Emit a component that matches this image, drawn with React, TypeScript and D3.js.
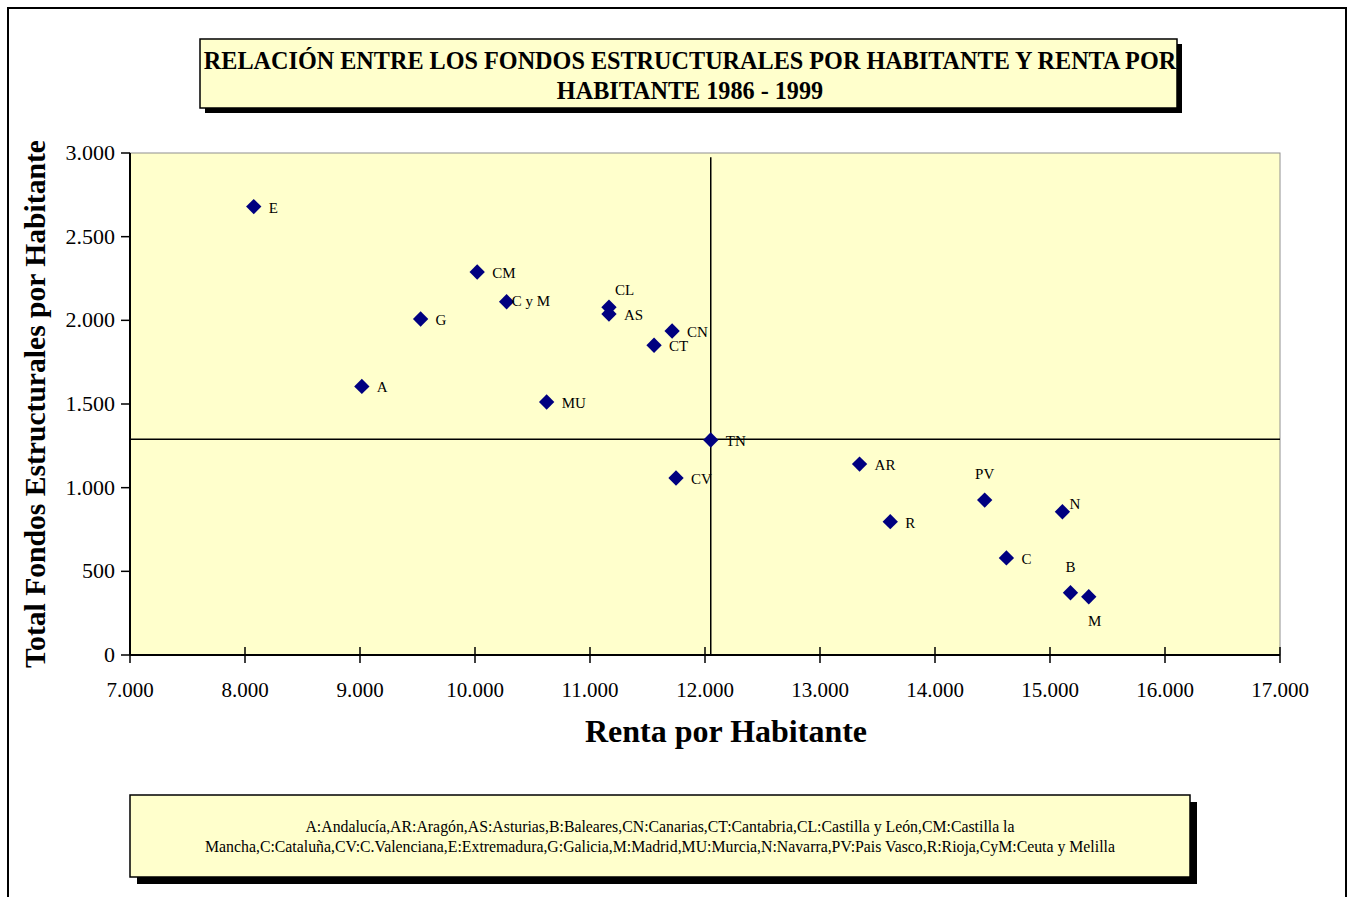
import React from "react";
import * as d3 from "d3";

const regions = ["E", "CM", "C y M", "G", "A", "MU", "CL", "AS", "CN", "CT", "TN", "CV", "AR", "R", "PV", "N", "C", "B", "M"];
const renta = [8076, 10019, 10275, 9527, 9016, 10623, 11165, 11165, 11714, 11557, 12050, 11748, 13344, 13611, 14432, 15108, 14621, 15178, 15337];
const fondos = [2680, 2289, 2111, 2008, 1605, 1512, 2078, 2038, 1936, 1851, 1285, 1058, 1141, 797, 926, 856, 580, 372, 348];
const labelSide = ["r", "r", "rc", "r", "r", "r", "tr", "r", "r", "r", "r", "r", "r", "r", "t", "tr2", "r", "t", "b"];

const xTicks = [7000, 8000, 9000, 10000, 11000, 12000, 13000, 14000, 15000, 16000, 17000];
const yTicks = [0, 500, 1000, 1500, 2000, 2500, 3000];
const meanRenta = 12050;
const meanFondos = 1290;
const crossTop = 2975;

const titleLines = ["RELACIÓN ENTRE LOS FONDOS ESTRUCTURALES POR HABITANTE Y RENTA POR", "HABITANTE 1986 - 1999"];
const legendLines = [
  "A:Andalucía,AR:Aragón,AS:Asturias,B:Baleares,CN:Canarias,CT:Cantabria,CL:Castilla y León,CM:Castilla la",
  "Mancha,C:Cataluña,CV:C.Valenciana,E:Extremadura,G:Galicia,M:Madrid,MU:Murcia,N:Navarra,PV:Pais Vasco,R:Rioja,CyM:Ceuta y Melilla",
];

const fmt = (v: number) => d3.format(",")(v).replace(/,/g, ".");

export default function App() {
  const L = 130, R = 1280, T = 153, B = 655;
  const x = d3.scaleLinear().domain([7000, 17000]).range([L, R]);
  const y = d3.scaleLinear().domain([0, 3000]).range([B, T]);
  const serif = "'Liberation Serif', 'Times New Roman', serif";
  const fill = "#FFFFCC";
  const diamond = d3.symbol().type(d3.symbolDiamond2).size(150)();

  const labelPos = (side: string, px: number, py: number) => {
    switch (side) {
      case "t": return { x: px, y: py - 21, a: "middle" };
      case "b": return { x: px + 6, y: py + 29, a: "middle" };
      case "tr": return { x: px + 6, y: py - 12, a: "start" };
      case "tr2": return { x: px + 7, y: py - 3, a: "start" };
      case "rc": return { x: px + 5, y: py + 4, a: "start" };
      default: return { x: px + 15, y: py + 6, a: "start" };
    }
  };

  return (
    <svg width={1354} height={897} style={{ position: "absolute", left: 0, top: 0, background: "#fff" }} fontFamily={serif}>
      <rect x={8} y={8} width={1338} height={900} fill="#fff" stroke="#000" strokeWidth={2} />
      {/* title */}
      <rect x={205} y={44} width={977} height={69} fill="#000" />
      <rect x={200} y={39} width={977} height={69} fill={fill} stroke="#000" strokeWidth={1.5} />
      {titleLines.map((t, i) => (
        <text key={i} x={690} y={69 + i * 30} textAnchor="middle" fontSize={24.2} fontWeight="bold" fill="#000">{t}</text>
      ))}
      {/* plot */}
      <rect x={L} y={T} width={R - L} height={B - T} fill={fill} stroke="#909090" strokeWidth={1} />
      {/* crosshair */}
      <line x1={x(7000)} x2={x(17000)} y1={y(meanFondos)} y2={y(meanFondos)} stroke="#000" strokeWidth={1.5} />
      <line x1={x(meanRenta)} x2={x(meanRenta)} y1={y(0)} y2={y(crossTop)} stroke="#000" strokeWidth={1.5} />
      {/* axes */}
      <line x1={L} x2={L} y1={T} y2={B} stroke="#000" strokeWidth={2} />
      <line x1={L} x2={R} y1={B} y2={B} stroke="#000" strokeWidth={2} />
      {yTicks.map((v) => (
        <g key={v}>
          <line x1={L - 9} x2={L} y1={y(v)} y2={y(v)} stroke="#000" strokeWidth={1.5} />
          <text x={L - 15} y={y(v) + 7} textAnchor="end" fontSize={22} fill="#000">{fmt(v)}</text>
        </g>
      ))}
      {xTicks.map((v) => (
        <g key={v}>
          <line x1={x(v)} x2={x(v)} y1={B - 8} y2={B + 8} stroke="#000" strokeWidth={1.5} />
          <text x={x(v)} y={B + 42} textAnchor="middle" fontSize={21} fill="#000">{fmt(v)}</text>
        </g>
      ))}
      <text x={726} y={742} textAnchor="middle" fontSize={32} fontWeight="bold" fill="#000">Renta por Habitante</text>
      <text transform={`translate(45, ${(T + B) / 2}) rotate(-90)`} textAnchor="middle" fontSize={29.6} fontWeight="bold" fill="#000">Total Fondos Estructurales por Habitante</text>
      {/* points */}
      {regions.map((r, i) => {
        const px = x(renta[i]);
        const py = y(fondos[i]);
        const lp = labelPos(labelSide[i], px, py);
        return (
          <g key={r}>
            <path d={diamond} transform={`translate(${px},${py})`} fill="#000080" />
            <text x={lp.x} y={lp.y} textAnchor={lp.a as any} fontSize={15} fill="#000">{r}</text>
          </g>
        );
      })}
      {/* legend */}
      <rect x={137} y={802} width={1060} height={82} fill="#000" />
      <rect x={130} y={795} width={1060} height={82} fill={fill} stroke="#000" strokeWidth={1.5} />
      {legendLines.map((t, i) => (
        <text key={i} x={660} y={832 + i * 20} textAnchor="middle" fontSize={15.8} fill="#000">{t}</text>
      ))}
    </svg>
  );
}
